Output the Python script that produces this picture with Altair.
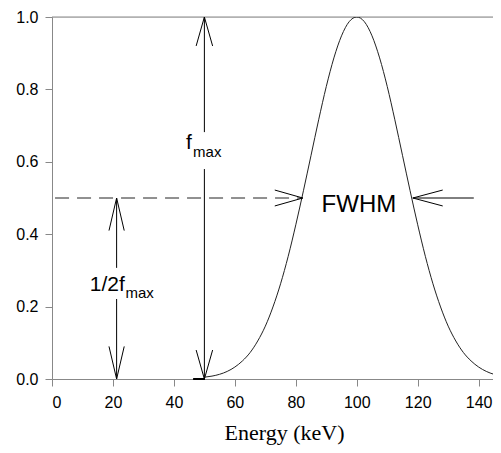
import altair as alt
import pandas as pd

# Gaussian-like peak
curve_x = [50, 52.5, 55, 57.5, 60, 62.5, 65, 67.5, 70, 72.5, 75, 77.5, 80, 82.5, 85, 87.5,
           90, 92.5, 95, 97.5, 100, 102.5, 105, 107.5, 110, 112.5, 115, 117.5, 120, 122.5,
           125, 127.5, 130, 132.5, 135, 137.5, 140, 142.5, 145, 147]
curve_y = [0.005, 0.008, 0.013, 0.021, 0.033, 0.050, 0.073, 0.105, 0.146, 0.199, 0.263, 0.339,
           0.426, 0.520, 0.618, 0.716, 0.808, 0.887, 0.948, 0.987, 1.000, 0.987, 0.948, 0.887,
           0.808, 0.716, 0.618, 0.520, 0.426, 0.339, 0.263, 0.199, 0.146, 0.105, 0.073, 0.050,
           0.033, 0.021, 0.013, 0.009]

x_ticks = [0, 20, 40, 60, 80, 100, 120, 140]
y_ticks = [0.0, 0.2, 0.4, 0.6, 0.8, 1.0]
x_max = 147

# annotation segments (data coordinates): x, y, x2, y2
seg_x  = [50, 50, 50, 50, 50, 50, 21.2, 21.2, 21.2, 21.2, 21.2, 21.2, 82.3, 82.3, 118.4, 118.4, 118.4]
seg_y  = [1.0, 0.580, 1.0, 1.0, 0.0, 0.0, 0.5, 0.221, 0.5, 0.5, 0.0, 0.0, 0.5, 0.5, 0.5, 0.5, 0.5]
seg_x2 = [50, 50, 47.3, 52.7, 47.3, 52.7, 21.2, 21.2, 18.7, 23.7, 18.7, 23.7, 73.1, 73.1, 128.2, 128.2, 138.4]
seg_y2 = [0.682, 0.0, 0.92, 0.92, 0.08, 0.08, 0.307, 0.0, 0.41, 0.41, 0.09, 0.09, 0.522, 0.478, 0.522, 0.478, 0.5]

dash_x, dash_y, dash_x2 = [1.0], [0.5], [82.3]
top_x, top_y, top_x2 = [0], [1.0], [x_max]
base_x, base_y, base_x2 = [46.3], [0.0], [50.2]

big_text = ["f", "1/2f"]
big_x = [45.9, 23.9]
big_y = [0.635, 0.243]
sub_text = ["max", "max"]
sub_x = [46.3, 24.1]
sub_y = [0.613, 0.224]
fwhm_text, fwhm_x, fwhm_y = ["FWHM"], [100.7], [0.461]

xs = alt.Scale(domain=[0, x_max], nice=False, zero=False)
ys = alt.Scale(domain=[0, 1], nice=False)

curve_df = pd.DataFrame({"x": curve_x, "y": curve_y})
base = alt.Chart(curve_df).mark_line(color="#222222", strokeWidth=1, interpolate="monotone",
                                     clip=True).encode(
    x=alt.X("x:Q", scale=xs,
            axis=alt.Axis(values=x_ticks, title="Energy (keV)", grid=False, labelFontSize=16,
                          labelFont="Liberation Sans", labelColor="#000000", tickSize=7,
                          labelPadding=8, domainColor="#888888", tickColor="#888888",
                          titleFont="Liberation Serif", titleFontSize=22, titleFontWeight="normal",
                          titleColor="#000000", titlePadding=12, titleX=232)),
    y=alt.Y("y:Q", scale=ys, title=None,
            axis=alt.Axis(values=y_ticks, format=".1f", grid=False, labelFontSize=16,
                          labelFont="Liberation Sans", labelColor="#000000", tickSize=7,
                          labelPadding=7, domainColor="#888888", tickColor="#888888")),
)

seg_df = pd.DataFrame({"x": seg_x, "y": seg_y, "x2": seg_x2, "y2": seg_y2})
segs = alt.Chart(seg_df).mark_rule(color="#000000", strokeWidth=1).encode(
    x=alt.X("x:Q", scale=xs), y=alt.Y("y:Q", scale=ys), x2="x2:Q", y2="y2:Q")

dash_df = pd.DataFrame({"x": dash_x, "y": dash_y, "x2": dash_x2})
dash = alt.Chart(dash_df).mark_rule(color="#222222", strokeWidth=1, strokeDash=[14, 8]).encode(
    x=alt.X("x:Q", scale=xs), y=alt.Y("y:Q", scale=ys), x2="x2:Q")

top_df = pd.DataFrame({"x": top_x, "y": top_y, "x2": top_x2})
top = alt.Chart(top_df).mark_rule(color="#888888", strokeWidth=1).encode(
    x=alt.X("x:Q", scale=xs), y=alt.Y("y:Q", scale=ys), x2="x2:Q")

base_df = pd.DataFrame({"x": base_x, "y": base_y, "x2": base_x2})
thick = alt.Chart(base_df).mark_rule(color="#000000", strokeWidth=2).encode(
    x=alt.X("x:Q", scale=xs), y=alt.Y("y:Q", scale=ys), x2="x2:Q")

big_df = pd.DataFrame({"x": big_x, "y": big_y, "t": big_text})
big = alt.Chart(big_df).mark_text(font="Liberation Sans", fontSize=21, align="right",
                                  baseline="alphabetic", color="#000000").encode(
    x=alt.X("x:Q", scale=xs), y=alt.Y("y:Q", scale=ys), text="t:N")

sub_df = pd.DataFrame({"x": sub_x, "y": sub_y, "t": sub_text})
sub = alt.Chart(sub_df).mark_text(font="Liberation Sans", fontSize=15, align="left",
                                  baseline="alphabetic", color="#000000").encode(
    x=alt.X("x:Q", scale=xs), y=alt.Y("y:Q", scale=ys), text="t:N")

fw_df = pd.DataFrame({"x": fwhm_x, "y": fwhm_y, "t": fwhm_text})
fw = alt.Chart(fw_df).mark_text(font="Liberation Sans", fontSize=24, align="center",
                                baseline="alphabetic", color="#000000").encode(
    x=alt.X("x:Q", scale=xs), y=alt.Y("y:Q", scale=ys), text="t:N")

chart = alt.layer(top, base, dash, segs, thick, big, sub, fw).properties(
    width=448, height=362,
    autosize=alt.AutoSizeParams(type="none"),
    padding={"left": 44, "top": 9, "right": -7, "bottom": 66},
).configure_view(stroke=None).configure(background="#ffffff")

chart.save("out.html", embed_options={"renderer": "svg", "actions": False})
